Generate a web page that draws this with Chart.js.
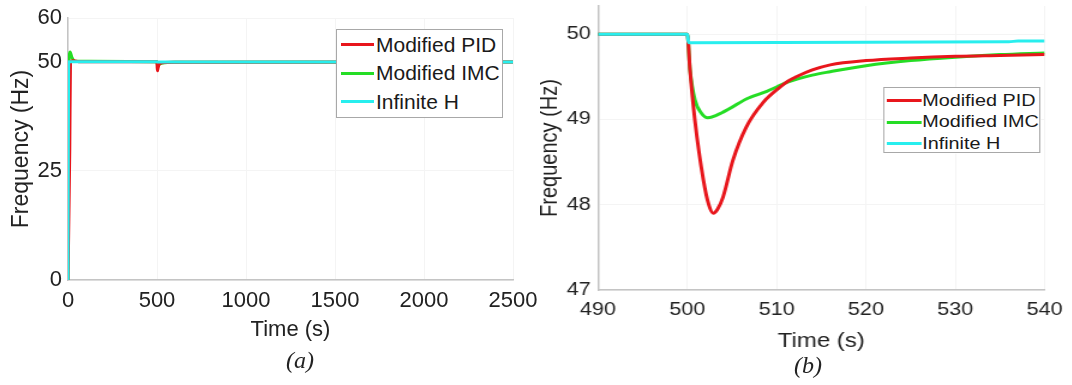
<!DOCTYPE html>
<html>
<head>
<meta charset="utf-8">
<script src="https://cdn.jsdelivr.net/npm/chart.js@4.4.1/dist/chart.umd.min.js"></script>
<style>
  body { margin: 0; background: #fff; font-family: "Liberation Sans", Arial, sans-serif; }
  #page { position: relative; width: 1072px; height: 385px; overflow: hidden; }
  .panel { position: absolute; top: 0; }
  .legend { position: absolute; background: #fff; border: 1px solid #a8a8a8; box-sizing: border-box; color: #1a1a1a; }
  .legend .swatch { position: absolute; height: 3px; }
  .legend .txt { position: absolute; white-space: nowrap; }
  .cap { position: absolute; font-family: "Liberation Serif", "DejaVu Serif", serif; font-style: italic; font-size: 24px; color: #222; transform: translate(-50%, -50%); }
</style>
</head>
<body>
<div id="page">
  <div class="panel" id="panelA" style="left:0;width:540px;height:385px;">
    <canvas id="chartA" width="540" height="385"></canvas>
    <div class="legend" id="legendA" style="left:336px;top:29px;width:167px;height:89px;"></div>
  </div>
  <div class="panel" id="panelB" style="left:540px;width:443px;height:385px;transform:scaleX(1.2);transform-origin:0 0;">
    <canvas id="chartB" width="443" height="385"></canvas>
    <div class="legend" id="legendB" style="left:286px;top:87px;width:131px;height:66px;"></div>
  </div>
  <div class="cap" style="left:300px;top:360px;">(a)</div>
  <div class="cap" style="left:808px;top:365px;">(b)</div>
</div>
<script>
// series names and colours
const seriesNames = ['Modified PID', 'Modified IMC', 'Infinite H'];
const seriesColors = ['#e8161c', '#25dd25', '#28eeee'];

// (a) full run, 0 - 2500 s
const pidTimeA  = [0, 10, 14, 32, 60, 500, 501, 503, 506, 512, 530, 600, 2500];
const pidFreqA  = [0, 30, 50, 50.2, 50, 50, 48.6, 47.9, 48.5, 49.4, 49.75, 49.85, 49.9];
const imcTimeA  = [0, 6, 12, 22, 40, 500, 502, 510, 530, 600, 2500];
const imcFreqA  = [0, 50, 52.2, 51, 50.1, 50, 49.1, 49.35, 49.7, 49.85, 49.9];
const hinfTimeA = [0, 4, 500, 501, 2500];
const hinfFreqA = [0, 50, 50, 49.9, 49.92];
const yTicksA = [0, 25, 50, 60];

// (b) zoom on the load step, 490 - 540 s
const pidTimeB  = [490, 500, 500.3, 500.85, 501.8, 502.4, 502.9, 503.4, 504.0, 505.1, 506.6, 508.5, 510.4, 511.3, 512.2, 514, 516, 520, 525, 530, 535, 540];
const pidFreqB  = [50, 50, 49.58, 48.99, 48.29, 48.0, 47.9, 47.95, 48.09, 48.52, 48.91, 49.2, 49.38, 49.45, 49.5, 49.58, 49.64, 49.69, 49.72, 49.74, 49.75, 49.76];
const imcTimeB  = [490, 500, 500.3, 500.85, 501.6, 502.3, 503.3, 504.8, 506.6, 508.9, 510, 511.3, 514, 516, 520, 525, 530, 535, 540];
const imcFreqB  = [50, 50, 49.58, 49.23, 49.07, 49.02, 49.05, 49.13, 49.24, 49.33, 49.38, 49.44, 49.52, 49.56, 49.63, 49.69, 49.73, 49.76, 49.78];
const hinfTimeB = [490, 500, 500.15, 520, 536, 537, 540];
const hinfFreqB = [50, 50, 49.9, 49.905, 49.91, 49.92, 49.92];
const yTicksB = [47, 48, 49, 50];

function toPoints(xs, ys) {
  return xs.map((x, i) => ({ x: x, y: ys[i] }));
}

// cyan drawn on top, then red, then green
function makeDatasets(sets) {
  const order = [1, 2, 0];
  return sets.map((s, i) => ({
    label: seriesNames[i],
    data: toPoints(s[0], s[1]),
    borderColor: seriesColors[i],
    backgroundColor: seriesColors[i],
    borderWidth: 3,
    pointRadius: 0,
    cubicInterpolationMode: 'monotone',
    order: order[i]
  }));
}

function buildLegend(id, fontSize, rowTop, rowStep, lineLeft, lineWidth, textLeft) {
  const box = document.getElementById(id);
  seriesNames.forEach((name, i) => {
    const cy = rowTop + i * rowStep;
    const sw = document.createElement('div');
    sw.className = 'swatch';
    sw.style.cssText = `left:${lineLeft}px;width:${lineWidth}px;top:${cy - 1.5}px;background:${seriesColors[i]};`;
    const tx = document.createElement('div');
    tx.className = 'txt';
    tx.textContent = name;
    tx.style.cssText = `left:${textLeft}px;top:${cy - fontSize * 0.6}px;font-size:${fontSize}px;line-height:${fontSize * 1.2}px;`;
    box.appendChild(sw);
    box.appendChild(tx);
  });
}

const axisColor = '#c4c4c4';
const gridColor = '#f4f4f4';
const textColor = '#222222';
const plainNumber = v => String(v);

function fixWidth(w) {
  return function (scale) { scale.width = w; scale.paddingTop = 0; scale.paddingBottom = 0; };
}
function fixHeight(h) {
  return function (scale) { scale.height = h; scale.paddingLeft = 0; scale.paddingRight = 0; };
}

// ---- chart (a)
new Chart(document.getElementById('chartA'), {
  type: 'line',
  data: { datasets: makeDatasets([[pidTimeA, pidFreqA], [imcTimeA, imcFreqA], [hinfTimeA, hinfFreqA]]) },
  options: {
    responsive: false,
    animation: false,
    devicePixelRatio: 1,
    layout: { padding: { top: 18, right: 27, left: 0, bottom: 0 } },
    plugins: { legend: { display: false }, tooltip: { enabled: false } },
    scales: {
      x: {
        type: 'linear', min: 0, max: 2500,
        ticks: { stepSize: 500, callback: plainNumber, color: textColor, font: { size: 22, family: 'Liberation Sans' }, padding: 8, maxRotation: 0 },
        grid: { color: gridColor, drawTicks: false },
        border: { color: axisColor, width: 1.5 },
        title: { display: true, text: 'Time (s)', color: textColor, font: { size: 22, family: 'Liberation Sans' }, padding: { top: 0, bottom: 42 } },
        afterFit: fixHeight(105)
      },
      y: {
        min: 0, max: 60,
        afterBuildTicks: s => { s.ticks = yTicksA.map(v => ({ value: v })); },
        ticks: { callback: plainNumber, color: textColor, font: { size: 22, family: 'Liberation Sans' }, padding: 6 },
        grid: { color: gridColor, drawTicks: false },
        border: { color: axisColor, width: 1.5 },
        title: { display: true, text: 'Frequency (Hz)', color: textColor, font: { size: 23, family: 'Liberation Sans' }, padding: { top: 8, bottom: 0 } },
        afterFit: fixWidth(68)
      }
    }
  }
});

// ---- chart (b), canvas is stretched 1.2x horizontally like the source figure
new Chart(document.getElementById('chartB'), {
  type: 'line',
  data: { datasets: makeDatasets([[pidTimeB, pidFreqB], [imcTimeB, imcFreqB], [hinfTimeB, hinfFreqB]]) },
  options: {
    responsive: false,
    animation: false,
    devicePixelRatio: 1,
    layout: { padding: { top: 6, right: 22.5, left: 0, bottom: 0 } },
    plugins: { legend: { display: false }, tooltip: { enabled: false } },
    scales: {
      x: {
        type: 'linear', min: 490, max: 540,
        ticks: { stepSize: 10, callback: plainNumber, color: textColor, font: { size: 18, family: 'Liberation Sans' }, padding: 9, maxRotation: 0 },
        grid: { color: gridColor, drawTicks: false },
        border: { color: axisColor, width: 1.5 },
        title: { display: true, text: 'Time (s)', color: textColor, font: { size: 20, family: 'Liberation Sans' }, padding: { top: 0, bottom: 32 } },
        afterFit: fixHeight(95)
      },
      y: {
        min: 47, max: 50.33,
        afterBuildTicks: s => { s.ticks = yTicksB.map(v => ({ value: v })); },
        ticks: { callback: plainNumber, color: textColor, font: { size: 18, family: 'Liberation Sans' }, padding: 6 },
        grid: { color: gridColor, drawTicks: false },
        border: { color: axisColor, width: 1.5 },
        title: { display: true, text: 'Frequency (Hz)', color: textColor, font: { size: 20, family: 'Liberation Sans', lineHeight: 0.85 }, padding: { top: 0, bottom: 0 } },
        afterFit: fixWidth(48.3)
      }
    }
  }
});

buildLegend('legendA', 21, 14.5, 28.5, 4, 33, 39);
buildLegend('legendB', 16.5, 12.5, 21.5, 1.5, 29, 31.5);
</script>
</body>
</html>
